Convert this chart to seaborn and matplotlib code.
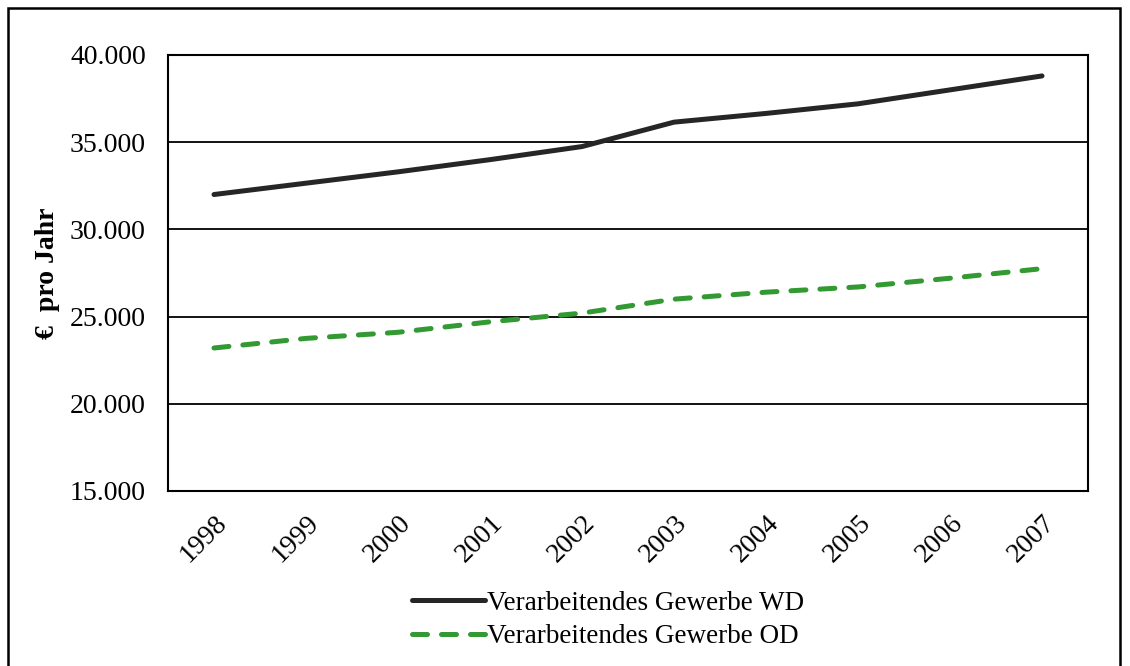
import matplotlib
matplotlib.use("Agg")
import matplotlib.pyplot as plt
import matplotlib.ticker as mticker
import seaborn as sns
import pandas as pd

# data
years = ["1998", "1999", "2000", "2001", "2002", "2003", "2004", "2005", "2006", "2007"]
wd_values = [32000, 32650, 33300, 34000, 34750, 36150, 36650, 37200, 38000, 38800]
od_values = [23200, 23750, 24100, 24700, 25200, 26000, 26400, 26700, 27200, 27750]
label_wd = "Verarbeitendes Gewerbe WD"
label_od = "Verarbeitendes Gewerbe OD"

sns.set_style("white")
plt.rcParams["font.family"] = ["Liberation Serif", "DejaVu Serif"]
plt.rcParams["text.color"] = "black"
plt.rcParams["axes.labelcolor"] = "black"

df = pd.DataFrame({"Jahr": years, "WD": wd_values, "OD": od_values})

fig = plt.figure(figsize=(11.3, 6.66), dpi=100)
ax = fig.add_axes([168 / 1130, 1 - 491 / 666, 920 / 1130, 436 / 666])

sns.lineplot(data=df, x="Jahr", y="WD", ax=ax, color="#262626", linewidth=3.6,
             label=label_wd, solid_capstyle="round")
sns.lineplot(data=df, x="Jahr", y="OD", ax=ax, color="#339933", linewidth=3.6,
             label=label_od)
ax.lines[1].set_linestyle((0, (3, 2.8)))
ax.lines[1].set_dash_capstyle("round")

ax.set_xlim(-0.5, len(years) - 0.5)
ax.set_ylim(15000, 40000)
ax.yaxis.set_major_locator(mticker.MultipleLocator(5000))
ax.yaxis.set_major_formatter(mticker.FuncFormatter(lambda v, p: f"{int(v):,}".replace(",", ".")))
ax.grid(axis="y", color="black", linewidth=1.3)
ax.set_axisbelow(True)
for s in ax.spines.values():
    s.set_color("black")
    s.set_linewidth(1.5)

ax.tick_params(axis="both", length=0, labelsize=20, colors="black")
ax.tick_params(axis="y", pad=16)
ax.tick_params(axis="x", pad=14)
plt.setp(ax.get_xticklabels(), rotation=45, ha="right", rotation_mode="anchor")

ax.set_xlabel("")
ax.set_ylabel("€  pro Jahr", fontsize=20, fontweight="bold", labelpad=7)

leg = ax.legend(loc="center", bbox_to_anchor=(608 / 1130, 1 - 620 / 666),
                bbox_transform=fig.transFigure, frameon=False, fontsize=19.5,
                handlelength=2.7, handletextpad=0.1, labelspacing=0.3)
for h in leg.get_lines():
    h.set_dash_capstyle("round")

# outer chart border
fig.patches.append(plt.Rectangle((8 / 1130, -0.05), 1112 / 1130, 1 - 8 / 666 + 0.05,
                                 transform=fig.transFigure, fill=False,
                                 edgecolor="black", linewidth=1.8))

fig.savefig("out.png", dpi=100)
